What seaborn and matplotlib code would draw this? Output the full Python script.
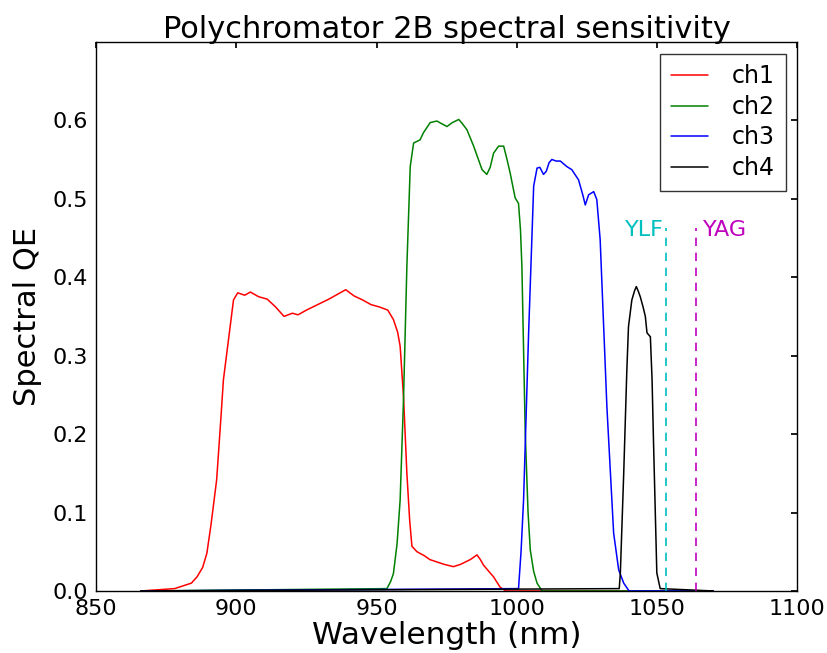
import numpy as np
import pandas as pd
import seaborn as sns
import matplotlib.pyplot as plt

# spectral QE curves (wavelength nm, QE)
ch1_wl = [866, 878, 884, 886, 888, 889.5, 891, 893, 894.5, 895.4, 897.2, 899, 900.5, 903, 905,
          908, 911, 914, 917, 920, 922, 925, 929, 933, 936, 939, 942, 945, 948, 951, 954, 956,
          957.5, 958.4, 959.6, 960.8, 961.8, 962.6, 964.4, 967, 969, 971.5, 974, 977.4, 980,
          983.4, 985.8, 987, 988.1, 990, 991.7, 994, 996, 1070]
ch1_qe = [0, 0.003, 0.01, 0.018, 0.03, 0.048, 0.085, 0.142, 0.22, 0.269, 0.32, 0.371, 0.380, 0.377, 0.381,
          0.375, 0.372, 0.362, 0.350, 0.354, 0.352, 0.358, 0.365, 0.372, 0.378, 0.384, 0.376, 0.371, 0.365, 0.362, 0.358, 0.346,
          0.330, 0.312, 0.248, 0.15, 0.09, 0.057, 0.05, 0.045, 0.040, 0.037, 0.034, 0.031, 0.034,
          0.040, 0.046, 0.040, 0.033, 0.025, 0.018, 0.005, 0, 0]

ch2_wl = [866, 953.7, 955, 956, 957.3, 958.4, 959.6, 960.8, 962, 963.2, 965.5, 966.7, 969.1, 971.5,
          973, 975.1, 977, 979.3, 980.5, 982.2, 984.6, 987.6, 989.3, 990.5, 991.7, 993.5, 995.3,
          996.5, 997.6, 999.4, 1000.6, 1001.3, 1001.8, 1003, 1004, 1004.8, 1006, 1007.2, 1009, 1070]
ch2_qe = [0, 0.003, 0.012, 0.022, 0.06, 0.116, 0.244, 0.414, 0.541, 0.571, 0.575, 0.584, 0.597, 0.599,
          0.596, 0.592, 0.597, 0.601, 0.596, 0.588, 0.567, 0.537, 0.531, 0.54, 0.558, 0.567, 0.567,
          0.55, 0.533, 0.501, 0.494, 0.46, 0.414, 0.201, 0.1, 0.052, 0.025, 0.010, 0, 0]

ch3_wl = [866, 1000.6, 1001.5, 1002.4, 1004.2, 1006, 1007.2, 1008.2, 1009.5, 1010.5, 1011.5, 1012.5,
          1014, 1015.5, 1017.8, 1019.6, 1022, 1023.5, 1024.4, 1025.6, 1027.4, 1028.5, 1029.7,
          1032.1, 1034.5, 1036.3, 1038.1, 1040, 1070]
ch3_qe = [0, 0.003, 0.05, 0.116, 0.329, 0.516, 0.539, 0.540, 0.531, 0.535, 0.546, 0.550,
          0.548, 0.548, 0.541, 0.537, 0.524, 0.505, 0.492, 0.505, 0.509, 0.499, 0.448,
          0.235, 0.074, 0.027, 0.010, 0, 0]

ch4_wl = [866, 1036.5, 1036.9, 1038.1, 1039.2, 1039.8, 1041, 1042, 1042.6, 1043.3, 1044, 1045,
          1045.8, 1046.4, 1047.6, 1048.2, 1048.7, 1049.9, 1051.1, 1070]
ch4_qe = [0, 0.003, 0.023, 0.15, 0.28, 0.337, 0.371, 0.383, 0.388, 0.382, 0.375, 0.362,
          0.350, 0.329, 0.324, 0.27, 0.193, 0.023, 0.003, 0]

channels = ["ch1", "ch2", "ch3", "ch4"]
colors = ["#ff0000", "#008000", "#0000ff", "#000000"]

lasers = ["YLF", "YAG"]
laser_wl = [1053, 1064]
laser_top = 0.463
laser_colors = ["#00bfbf", "#bf00bf"]

frames = []
for name, wl, qe in zip(channels, [ch1_wl, ch2_wl, ch3_wl, ch4_wl], [ch1_qe, ch2_qe, ch3_qe, ch4_qe]):
    frames.append(pd.DataFrame({"wavelength": wl, "qe": qe, "channel": name}))
df = pd.concat(frames, ignore_index=True)

sns.set_theme(style="white")
plt.rcParams.update({
    "font.family": ["DejaVu Sans"],
    "text.color": "black",
    "axes.labelcolor": "black",
    "axes.edgecolor": "black",
    "axes.linewidth": 1.0,
    "xtick.direction": "in",
    "ytick.direction": "in",
    "xtick.top": True,
    "ytick.right": True,
    "xtick.major.size": 4,
    "ytick.major.size": 4,
    "xtick.color": "black",
    "ytick.color": "black",
})

fig = plt.figure(figsize=(8.28, 6.53), dpi=100)
ax = fig.add_axes([0.116, 0.095, 0.847, 0.841])

sns.lineplot(data=df, x="wavelength", y="qe", hue="channel", palette=dict(zip(channels, colors)),
             estimator=None, sort=False, linewidth=1.1, ax=ax)

for name, wl, c in zip(lasers, laser_wl, laser_colors):
    ax.plot([wl, wl], [0, laser_top], linestyle="--", color=c, linewidth=1.2, dashes=(5, 4))
ax.text(laser_wl[0] - 0.7, 0.452, lasers[0], color=laser_colors[0], fontsize=16, ha="right", va="baseline")
ax.text(laser_wl[1] + 2.5, 0.452, lasers[1], color=laser_colors[1], fontsize=16, ha="left", va="baseline")

ax.set_xlim(850, 1100)
ax.set_ylim(0, 0.7)
ax.set_xticks([850, 900, 950, 1000, 1050, 1100])
ax.set_yticks([0.0, 0.1, 0.2, 0.3, 0.4, 0.5, 0.6])
ax.tick_params(labelsize=16, pad=6)
ax.set_xlabel("Wavelength (nm)", fontsize=22.5, labelpad=1)
ax.set_ylabel("Spectral QE", fontsize=22, labelpad=7)
ax.set_title("Polychromator 2B spectral sensitivity", fontsize=22, pad=3)

leg = ax.legend(loc="upper right", fontsize=17, frameon=True, fancybox=False, handlelength=1.6,
                handletextpad=1.0, borderpad=0.45, labelspacing=0.28, borderaxespad=0.5)
leg.get_frame().set_edgecolor("black")
leg.get_frame().set_linewidth(1.0)
leg.set_title(None)

fig.savefig("out.png", dpi=100)
